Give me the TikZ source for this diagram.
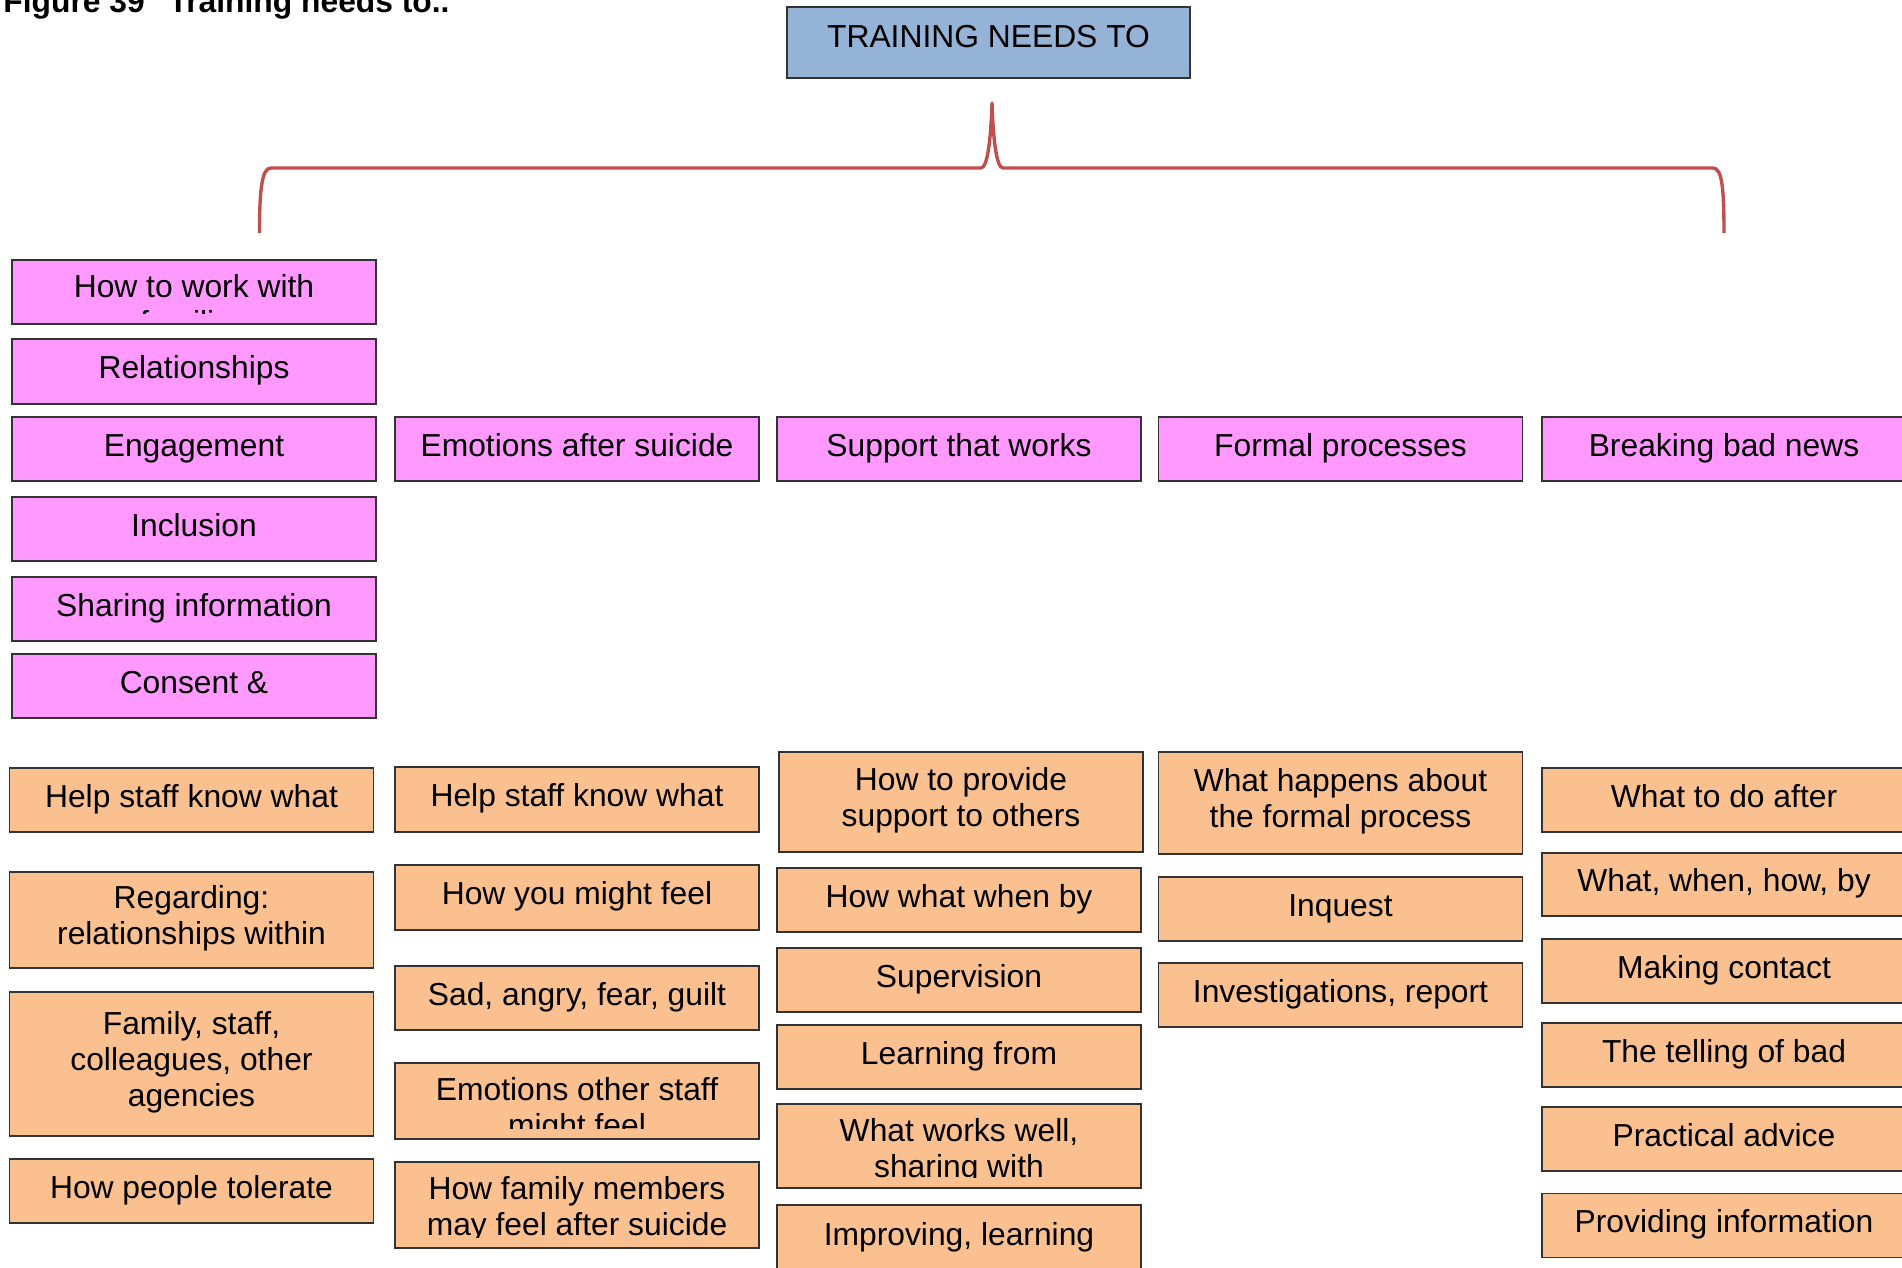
\documentclass[tikz,border=0pt]{standalone}
\usepackage{fontspec}
\setmainfont{Liberation Sans}
\usetikzlibrary{positioning}

\definecolor{boxpink}{RGB}{255,153,255}
\definecolor{boxtan}{RGB}{250,192,144}
\definecolor{boxblue}{RGB}{149,179,215}
\definecolor{bracered}{RGB}{192,80,77}

\newcommand{\boxfont}{\fontsize{15.9pt}{18pt}\selectfont}

\begin{document}
\begin{tikzpicture}[
    x=0.5pt, y=-0.5pt,
    font=\boxfont
]
\tikzset{
    topbox/.style = {rectangle, draw=black!80, line width=0.75pt, fill=boxblue, minimum width=201.5pt, minimum height=35.5pt, inner sep=0pt, outer sep=0pt, text height=12.6pt, text depth=7.1pt},
    pbox/.style = {rectangle, draw=black!80, line width=0.75pt, fill=boxpink, minimum width=182pt, inner sep=0pt, outer sep=0pt, align=center, execute at begin node=\strut, execute at end node=\strut},
    obox/.style = {pbox, fill=boxtan},
    cliptext/.style = {anchor=north, inner sep=0pt, outer sep=0pt, align=center, yshift=-7.4pt, execute at begin node=\strut},
    bracket/.style = {line width=1.7pt, draw=bracered, line join=round}
}
\useasboundingbox (0,0) rectangle (1902,1268);
\clip (0,0) rectangle (1902,1268);

\node[anchor=base west, inner sep=0pt, font=\boxfont\bfseries] at (3,13) (fig) {Figure 39\hspace{0.75em}Training needs to..};
\node[topbox] at (988.5,42.5) (needs) {TRAINING NEEDS TO};

% bracket under the title box
\coordinate (bl) at (259.5,233);
\coordinate (br) at (1724,233);
\coordinate (tip) at (992,103);
\draw[bracket] (bl) .. controls (259.5,188) and (262,168) .. (271,168) -- (981,168)
    .. controls (988,168) and (991,135) .. (tip)
    .. controls (993,135) and (996,168) .. (1003,168) -- (1713,168)
    .. controls (1722,168) and (1724,188) .. (br);

% pink column
\node[pbox, minimum height=32pt] at (194,292) (families) {};
\node[pbox, minimum height=32.5pt] at (194,371.5) (relation) {Relationships};
\node[pbox, minimum height=32pt] at (194,449) (engage) {Engagement};
\node[pbox, minimum height=32pt] at (194,529) (inclusion) {Inclusion};
\node[pbox, minimum height=32pt] at (194,609) (sharing) {Sharing information};
\node[pbox, minimum height=32pt] at (194,686) (consent) {Consent \&};

% pink row
\node[pbox, minimum height=32pt] at (577,449) (emotions) {Emotions after suicide};
\node[pbox, minimum height=32pt] at (959,449) (support) {Support that works};
\node[pbox, minimum height=32pt] at (1340.5,449) (formal) {Formal processes};
\node[pbox, minimum height=32pt] at (1724,449) (badnews) {Breaking bad news};

% column 1
\node[obox, minimum height=32pt] at (191.5,800) (helpa) {Help staff know what};
\node[obox, minimum height=48pt] at (191.5,920) (regard) {Regarding:\\relationships within};
\node[obox, minimum height=72pt] at (191.5,1064) (family) {Family, staff,\\colleagues, other\\agencies};
\node[obox, minimum height=32pt] at (191.5,1191) (tolerate) {How people tolerate};

% column 2
\node[obox, minimum height=32.5pt] at (577,799.5) (helpb) {Help staff know what};
\node[obox, minimum height=32.5pt] at (577,897.5) (feel) {How you might feel};
\node[obox, minimum height=32pt] at (577,998) (sad) {Sad, angry, fear, guilt};
\node[obox, minimum height=38pt] at (577,1101) (otherstaff) {};
\node[obox, minimum height=43pt] at (577,1205) (famfeel) {};

% column 3
\node[obox, minimum height=50pt] at (961,802) (provide) {How to provide\\support to others};
\node[obox, minimum height=32pt] at (959,900) (hwwb) {How what when by};
\node[obox, minimum height=32pt] at (959,980) (superv) {Supervision};
\node[obox, minimum height=32pt] at (959,1057) (learn) {Learning from};
\node[obox, minimum height=42pt] at (959,1146) (works) {};
\node[obox, minimum height=50pt] at (959,1255) (improve) {};

% column 4
\node[obox, minimum height=51pt] at (1340.5,803) (happens) {What happens about\\the formal process};
\node[obox, minimum height=32pt] at (1340.5,909) (inquest) {Inquest};
\node[obox, minimum height=32pt] at (1340.5,995) (invest) {Investigations, report};

% column 5
\node[obox, minimum height=32pt] at (1724,800) (after) {What to do after};
\node[obox, minimum height=31.5pt] at (1724,884.5) (whatwhen) {What, when, how, by};
\node[obox, minimum height=32pt] at (1724,971) (contact) {Making contact};
\node[obox, minimum height=32pt] at (1724,1055) (telling) {The telling of bad};
\node[obox, minimum height=32pt] at (1724,1139) (practical) {Practical advice};
\node[obox, minimum height=32pt] at (1724,1225.5) (providing) {Providing information};

% overflowing texts, cut at the box edge
\begin{scope}
\clip ([yshift=5.5pt]families.south west) rectangle (families.north east);
\node[cliptext] at (families.north) (familiestxt) {How to work with\\families};
\end{scope}
\begin{scope}
\clip ([yshift=5.5pt]otherstaff.south west) rectangle (otherstaff.north east);
\node[cliptext] at (otherstaff.north) (otherstafftxt) {Emotions other staff\\might feel};
\end{scope}
\begin{scope}
\clip ([yshift=5.5pt]famfeel.south west) rectangle (famfeel.north east);
\node[cliptext] at (famfeel.north) (famfeeltxt) {How family members\\may feel after suicide};
\end{scope}
\begin{scope}
\clip ([yshift=5.5pt]works.south west) rectangle (works.north east);
\node[cliptext] at (works.north) (workstxt) {What works well,\\sharing with};
\end{scope}
\node[cliptext] at (improve.north) (improvetxt) {Improving, learning};
\end{tikzpicture}
\end{document}
